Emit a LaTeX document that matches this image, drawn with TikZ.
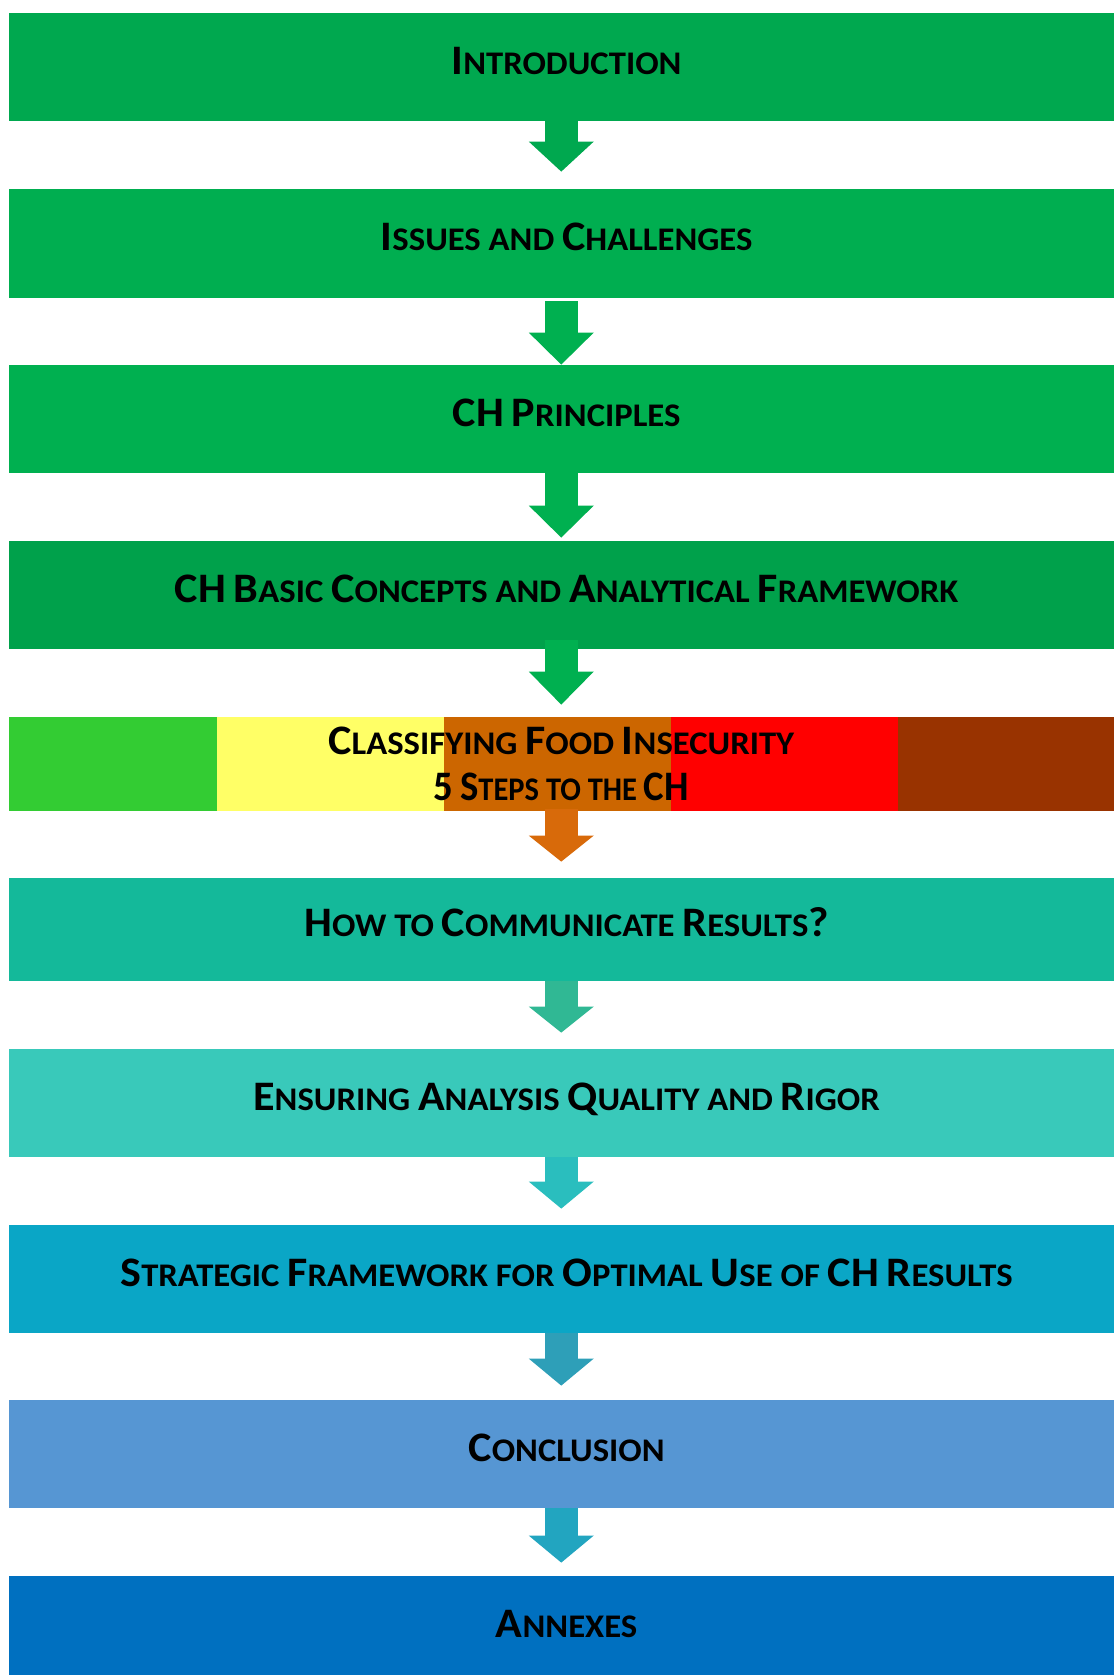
\documentclass[tikz,border=0pt]{standalone}
\usepackage{fontspec}
\setmainfont{Carlito}[FakeStretch=1.05]
\usetikzlibrary{arrows.meta}
% bar colours
\definecolor{barA}{HTML}{00A84F}
\definecolor{barB}{HTML}{00AE50}
\definecolor{barC}{HTML}{00B050}
\definecolor{barD}{HTML}{00A14B}
\definecolor{barF}{HTML}{14B99A}
\definecolor{barG}{HTML}{39C9BA}
\definecolor{barH}{HTML}{0AA6C6}
\definecolor{barI}{HTML}{5696D3}
\definecolor{barJ}{HTML}{0070C0}
% phase colours
\definecolor{phA}{HTML}{33CC33}
\definecolor{phB}{HTML}{FFFF66}
\definecolor{phC}{HTML}{CC6600}
\definecolor{phD}{HTML}{FF0000}
\definecolor{phE}{HTML}{993300}
% arrow colours
\definecolor{arA}{HTML}{00A84F}
\definecolor{arB}{HTML}{00B050}
\definecolor{arE}{HTML}{D86A0A}
\definecolor{arF}{HTML}{30B894}
\definecolor{arG}{HTML}{2ABEBE}
\definecolor{arH}{HTML}{2E9FB8}
\definecolor{arI}{HTML}{22A5C0}
\newcommand\C[1]{{\fontsize{21}{23}\selectfont #1}}
\tikzset{
  barbase/.style={minimum width=552.75pt, minimum height=54pt, inner sep=0pt,
    font=\fontsize{16.5}{23}\selectfont\bfseries},
  bar/.style={barbase, text height=13.3pt, text depth=6pt,
    execute at begin node={\hspace*{5.3pt}}},
  flow/.style={line width=16.5pt, -{Triangle[width=32.5pt,length=#1,line width=0pt]}},
}
\begin{document}
\begin{tikzpicture}[x=0.5pt,y=-0.5pt]
  \useasboundingbox (0,0) rectangle (1114,1675);
  \node[bar, fill=barA] (intro) at (561.25,67) {\C{I}NTRODUCTION};
  \node[bar, fill=barB, minimum height=54.5pt] (issues) at (561.25,243.5) {\C{I}SSUES AND \C{C}HALLENGES};
  \node[bar, fill=barC] (principles) at (561.25,419) {\C{CH} \C{P}RINCIPLES};
  \node[bar, fill=barD, minimum height=53.75pt] (concepts) at (561.25,594.75) {\C{CH} \C{B}ASIC \C{C}ONCEPTS AND \C{A}NALYTICAL \C{F}RAMEWORK};
  % five phases
  \fill[phA] (8.5,717) rectangle (216.7,811);
  \fill[phB] (216.7,717) rectangle (444,811);
  \fill[phC] (444,717) rectangle (670.6,811);
  \fill[phD] (670.6,717) rectangle (898,811);
  \fill[phE] (898,717) rectangle (1114,811);
  \node[barbase, minimum height=47pt, align=center] (classify) at (561.25,764)
    {\C{C}LASSIFYING \C{F}OOD \C{I}NSECURITY\\\scalebox{0.88}[1]{\C{5} \C{S}TEPS TO THE \C{CH}}};
  \node[bar, fill=barF, minimum height=51.5pt] (communicate) at (561.25,929.5) {\C{H}OW TO \C{C}OMMUNICATE \C{R}ESULTS\C{?}};
  \node[bar, fill=barG] (quality) at (561.25,1103) {\C{E}NSURING \C{A}NALYSIS \C{Q}UALITY AND \C{R}IGOR};
  \node[bar, fill=barH] (strategic) at (561.25,1279) {\C{S}TRATEGIC \C{F}RAMEWORK FOR \C{O}PTIMAL \C{U}SE OF \C{CH} \C{R}ESULTS};
  \node[bar, fill=barI] (conclusion) at (561.25,1454) {\C{C}ONCLUSION};
  \node[bar, fill=barJ] (annexes) at (561.25,1630) {\C{A}NNEXES};
  % block arrows
  \foreach \from/\to/\col/\s/\t/\h in {intro/issues/arA/0pt/8.5pt/15pt,
      issues/principles/arB/1.5pt/0pt/16pt,
      principles/concepts/arB/0pt/1.5pt/16pt,
      concepts/classify/arB/-4.5pt/6pt/16.5pt,
      classify/communicate/arE/-1pt/8pt/13pt,
      communicate/quality/arF/0pt/8pt/13pt,
      quality/strategic/arG/0pt/8pt/13.5pt,
      strategic/conclusion/arH/0pt/7pt/13.5pt,
      conclusion/annexes/arI/0pt/6.5pt/13.5pt}
    \draw[flow=\h, color=\col, shorten <=\s, shorten >=\t] (\from.south) -- (\to.north);
\end{tikzpicture}
\end{document}
